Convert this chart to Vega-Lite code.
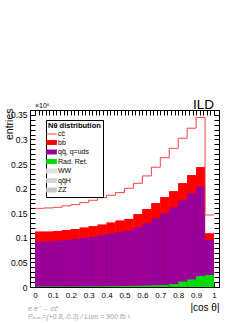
{
  "$schema": "https://vega.github.io/schema/vega-lite/v6.json",
  "autosize": {"type": "none"},
  "padding": {"left": 30, "top": 110, "right": 30, "bottom": 36},
  "width": 189,
  "height": 177,
  "background": "white",
  "config": {
    "view": {"stroke": "black", "strokeWidth": 1},
    "font": "Liberation Sans",
    "axis": {"grid": false, "domain": false, "tickColor": "black", "labelColor": "black", "titleColor": "black", "labelFont": "Liberation Sans", "titleFont": "Liberation Sans", "titleFontWeight": "normal", "labelOverlap": false, "labelFlush": false, "labelBound": false}
  },
  "datasets": {
    "hist": [
      {"lo": 0.00, "hi": 0.05, "series": "bb\u0304", "top": 0.1126},
      {"lo": 0.05, "hi": 0.10, "series": "bb\u0304", "top": 0.1126},
      {"lo": 0.10, "hi": 0.15, "series": "bb\u0304", "top": 0.114},
      {"lo": 0.15, "hi": 0.20, "series": "bb\u0304", "top": 0.116},
      {"lo": 0.20, "hi": 0.25, "series": "bb\u0304", "top": 0.118},
      {"lo": 0.25, "hi": 0.30, "series": "bb\u0304", "top": 0.1207},
      {"lo": 0.30, "hi": 0.35, "series": "bb\u0304", "top": 0.1235},
      {"lo": 0.35, "hi": 0.40, "series": "bb\u0304", "top": 0.1268},
      {"lo": 0.40, "hi": 0.45, "series": "bb\u0304", "top": 0.1309},
      {"lo": 0.45, "hi": 0.50, "series": "bb\u0304", "top": 0.135},
      {"lo": 0.50, "hi": 0.55, "series": "bb\u0304", "top": 0.1384},
      {"lo": 0.55, "hi": 0.60, "series": "bb\u0304", "top": 0.148},
      {"lo": 0.60, "hi": 0.65, "series": "bb\u0304", "top": 0.1587},
      {"lo": 0.65, "hi": 0.70, "series": "bb\u0304", "top": 0.1703},
      {"lo": 0.70, "hi": 0.75, "series": "bb\u0304", "top": 0.1825},
      {"lo": 0.75, "hi": 0.80, "series": "bb\u0304", "top": 0.1945},
      {"lo": 0.80, "hi": 0.85, "series": "bb\u0304", "top": 0.211},
      {"lo": 0.85, "hi": 0.90, "series": "bb\u0304", "top": 0.228},
      {"lo": 0.90, "hi": 0.95, "series": "bb\u0304", "top": 0.2436},
      {"lo": 0.95, "hi": 1.00, "series": "bb\u0304", "top": 0.109},
      {"lo": 0.00, "hi": 0.05, "series": "qq\u0304, q=uds", "top": 0.0922},
      {"lo": 0.05, "hi": 0.10, "series": "qq\u0304, q=uds", "top": 0.0929},
      {"lo": 0.10, "hi": 0.15, "series": "qq\u0304, q=uds", "top": 0.0943},
      {"lo": 0.15, "hi": 0.20, "series": "qq\u0304, q=uds", "top": 0.0956},
      {"lo": 0.20, "hi": 0.25, "series": "qq\u0304, q=uds", "top": 0.0977},
      {"lo": 0.25, "hi": 0.30, "series": "qq\u0304, q=uds", "top": 0.0997},
      {"lo": 0.30, "hi": 0.35, "series": "qq\u0304, q=uds", "top": 0.1024},
      {"lo": 0.35, "hi": 0.40, "series": "qq\u0304, q=uds", "top": 0.1055},
      {"lo": 0.40, "hi": 0.45, "series": "qq\u0304, q=uds", "top": 0.1085},
      {"lo": 0.45, "hi": 0.50, "series": "qq\u0304, q=uds", "top": 0.112},
      {"lo": 0.50, "hi": 0.55, "series": "qq\u0304, q=uds", "top": 0.1146},
      {"lo": 0.55, "hi": 0.60, "series": "qq\u0304, q=uds", "top": 0.1214},
      {"lo": 0.60, "hi": 0.65, "series": "qq\u0304, q=uds", "top": 0.1296},
      {"lo": 0.65, "hi": 0.70, "series": "qq\u0304, q=uds", "top": 0.1398},
      {"lo": 0.70, "hi": 0.75, "series": "qq\u0304, q=uds", "top": 0.15},
      {"lo": 0.75, "hi": 0.80, "series": "qq\u0304, q=uds", "top": 0.162},
      {"lo": 0.80, "hi": 0.85, "series": "qq\u0304, q=uds", "top": 0.1757},
      {"lo": 0.85, "hi": 0.90, "series": "qq\u0304, q=uds", "top": 0.1906},
      {"lo": 0.90, "hi": 0.95, "series": "qq\u0304, q=uds", "top": 0.204},
      {"lo": 0.95, "hi": 1.00, "series": "qq\u0304, q=uds", "top": 0.0957},
      {"lo": 0.00, "hi": 0.05, "series": "Rad. Ret.", "top": 0.001},
      {"lo": 0.05, "hi": 0.10, "series": "Rad. Ret.", "top": 0.001},
      {"lo": 0.10, "hi": 0.15, "series": "Rad. Ret.", "top": 0.001},
      {"lo": 0.15, "hi": 0.20, "series": "Rad. Ret.", "top": 0.001},
      {"lo": 0.20, "hi": 0.25, "series": "Rad. Ret.", "top": 0.001},
      {"lo": 0.25, "hi": 0.30, "series": "Rad. Ret.", "top": 0.0012},
      {"lo": 0.30, "hi": 0.35, "series": "Rad. Ret.", "top": 0.0013},
      {"lo": 0.35, "hi": 0.40, "series": "Rad. Ret.", "top": 0.0015},
      {"lo": 0.40, "hi": 0.45, "series": "Rad. Ret.", "top": 0.0017},
      {"lo": 0.45, "hi": 0.50, "series": "Rad. Ret.", "top": 0.002},
      {"lo": 0.50, "hi": 0.55, "series": "Rad. Ret.", "top": 0.0022},
      {"lo": 0.55, "hi": 0.60, "series": "Rad. Ret.", "top": 0.0025},
      {"lo": 0.60, "hi": 0.65, "series": "Rad. Ret.", "top": 0.003},
      {"lo": 0.65, "hi": 0.70, "series": "Rad. Ret.", "top": 0.0035},
      {"lo": 0.70, "hi": 0.75, "series": "Rad. Ret.", "top": 0.004},
      {"lo": 0.75, "hi": 0.80, "series": "Rad. Ret.", "top": 0.006},
      {"lo": 0.80, "hi": 0.85, "series": "Rad. Ret.", "top": 0.011},
      {"lo": 0.85, "hi": 0.90, "series": "Rad. Ret.", "top": 0.0156},
      {"lo": 0.90, "hi": 0.95, "series": "Rad. Ret.", "top": 0.0224},
      {"lo": 0.95, "hi": 1.00, "series": "Rad. Ret.", "top": 0.0244}
    ],
    "total": [
      {"x": 0.00, "entries": 0.160},
      {"x": 0.05, "entries": 0.1608},
      {"x": 0.10, "entries": 0.162},
      {"x": 0.15, "entries": 0.165},
      {"x": 0.20, "entries": 0.1675},
      {"x": 0.25, "entries": 0.1716},
      {"x": 0.30, "entries": 0.1764},
      {"x": 0.35, "entries": 0.1818},
      {"x": 0.40, "entries": 0.1866},
      {"x": 0.45, "entries": 0.192},
      {"x": 0.50, "entries": 0.2008},
      {"x": 0.55, "entries": 0.211},
      {"x": 0.60, "entries": 0.2259},
      {"x": 0.65, "entries": 0.2436},
      {"x": 0.70, "entries": 0.263},
      {"x": 0.75, "entries": 0.282},
      {"x": 0.80, "entries": 0.3026},
      {"x": 0.85, "entries": 0.323},
      {"x": 0.90, "entries": 0.3446},
      {"x": 0.95, "entries": 0.1465},
      {"x": 1.00, "entries": 0.1465}
    ]
  },
  "layer": [
    {
      "data": {"name": "hist"},
      "mark": {"type": "bar", "orient": "vertical"},
      "encoding": {
        "x": {
          "field": "lo", "type": "quantitative",
          "scale": {"domain": [0, 1], "nice": false, "zero": false},
          "axis": {
            "orient": "bottom",
            "values": [0,0.02,0.04,0.06,0.08,0.1,0.12,0.14,0.16,0.18,0.2,0.22,0.24,0.26,0.28,0.3,0.32,0.34,0.36,0.38,0.4,0.42,0.44,0.46,0.48,0.5,0.52,0.54,0.56,0.58,0.6,0.62,0.64,0.66,0.68,0.7,0.72,0.74,0.76,0.78,0.8,0.82,0.84,0.86,0.88,0.9,0.92,0.94,0.96,0.98,1],
            "labelExpr": "abs(datum.value*10-round(datum.value*10))<1e-6 ? format(datum.value,'~g') : ''",
            "tickSize": -5,
            "labelPadding": 9,
            "labelFontSize": 8,
            "title": "|cos θ|",
            "titleFontSize": 10,
            "titleAnchor": "end",
            "titleAlign": "right",
            "titleX": 189,
            "titleY": 23,
            "titleBaseline": "alphabetic",
            "encode": {"ticks": {"update": {"y2": {"signal": "abs(datum.value*10-round(datum.value*10))<1e-6 ? -5 : -2.5"}}}}
          }
        },
        "x2": {"field": "hi"},
        "y": {
          "field": "top", "type": "quantitative", "stack": null,
          "scale": {"domain": [0, 0.36], "nice": false},
          "axis": {
            "orient": "left",
            "values": [0,0.01,0.02,0.03,0.04,0.05,0.06,0.07,0.08,0.09,0.1,0.11,0.12,0.13,0.14,0.15,0.16,0.17,0.18,0.19,0.2,0.21,0.22,0.23,0.24,0.25,0.26,0.27,0.28,0.29,0.3,0.31,0.32,0.33,0.34,0.35,0.36],
            "labelExpr": "abs(datum.value*20-round(datum.value*20))<1e-6 ? format(datum.value,'~g') : ''",
            "tickSize": -5,
            "labelPadding": 8,
            "labelFontSize": 8.5,
            "title": "entries",
            "titleFontSize": 10.5,
            "titleAngle": -90,
            "titleAlign": "right",
            "titleAnchor": "start",
            "titleX": -18,
            "titleY": -2,
            "titleBaseline": "alphabetic",
            "encode": {"ticks": {"update": {"x2": {"signal": "abs(datum.value*20-round(datum.value*20))<1e-6 ? 5 : 2.5"}}}}
          }
        },
        "y2": {"datum": 0},
        "color": {
          "field": "series", "type": "nominal",
          "scale": {
            "domain": ["cc\u0304", "bb\u0304", "qq\u0304, q=uds", "Rad. Ret.", "WW", "qq\u0304H", "ZZ"],
            "range": ["#ffffff", "#ff0000", "#990099", "#00dd00", "#e2e2e2", "#d6d6d6", "#c8c8c8"]
          },
          "legend": {
            "title": "Nθ distribution",
            "orient": "none",
            "legendX": 16,
            "legendY": 10,
            "direction": "vertical",
            "fillColor": "white",
            "strokeColor": "black",
            "padding": 2,
            "titleFont": "Liberation Sans",
            "titleFontSize": 7.5,
            "titleFontWeight": "bold",
            "titleColor": "black",
            "titlePadding": 1,
            "labelFont": "Liberation Sans",
            "labelFontSize": 7,
            "labelColor": "black",
            "labelOffset": 3,
            "symbolSize": 20,
            "rowPadding": 0.5,
            "encode": {
              "symbols": {
                "update": {
                  "shape": {"signal": "datum.value === 'cc\u0304' ? 'M-2.4,0H2.4' : 'M-2.4,-1.1H2.4V1.1H-2.4Z'"},
                  "stroke": {"signal": "datum.value === 'cc\u0304' ? '#ff4040' : 'transparent'"},
                  "strokeWidth": {"value": 1}
                }
              }
            }
          }
        }
      }
    },
    {
      "data": {"name": "hist"},
      "mark": {"type": "bar", "orient": "vertical"},
      "encoding": {
        "x": {"field": "lo", "type": "quantitative", "axis": null},
        "x2": {"field": "hi"},
        "y": {"field": "top", "type": "quantitative", "stack": null, "axis": null},
        "y2": {"datum": 0},
        "color": {"field": "series", "type": "nominal"}
      }
    },
    {
      "data": {"name": "total"},
      "mark": {"type": "line", "interpolate": "step-after", "color": "#ff4040", "strokeWidth": 1},
      "encoding": {
        "x": {
          "field": "x", "type": "quantitative",
          "axis": {
            "orient": "top",
            "values": [0,0.02,0.04,0.06,0.08,0.1,0.12,0.14,0.16,0.18,0.2,0.22,0.24,0.26,0.28,0.3,0.32,0.34,0.36,0.38,0.4,0.42,0.44,0.46,0.48,0.5,0.52,0.54,0.56,0.58,0.6,0.62,0.64,0.66,0.68,0.7,0.72,0.74,0.76,0.78,0.8,0.82,0.84,0.86,0.88,0.9,0.92,0.94,0.96,0.98,1],
            "labels": false,
            "title": null,
            "tickSize": -5,
            "encode": {"ticks": {"update": {"y2": {"signal": "abs(datum.value*10-round(datum.value*10))<1e-6 ? 5 : 2.5"}}}}
          }
        },
        "y": {
          "field": "entries", "type": "quantitative",
          "axis": {
            "orient": "right",
            "values": [0,0.01,0.02,0.03,0.04,0.05,0.06,0.07,0.08,0.09,0.1,0.11,0.12,0.13,0.14,0.15,0.16,0.17,0.18,0.19,0.2,0.21,0.22,0.23,0.24,0.25,0.26,0.27,0.28,0.29,0.3,0.31,0.32,0.33,0.34,0.35,0.36],
            "labels": false,
            "title": null,
            "tickSize": -5,
            "encode": {"ticks": {"update": {"x2": {"signal": "abs(datum.value*20-round(datum.value*20))<1e-6 ? -5 : -2.5"}}}}
          }
        }
      }
    },
    {
      "data": {"values": [{"label": "×10⁶", "x": 0, "y": 0.36}]},
      "mark": {"type": "text", "align": "left", "baseline": "alphabetic", "dy": -2, "fontSize": 7, "font": "Liberation Sans", "color": "black"},
      "encoding": {
        "x": {"field": "x", "type": "quantitative", "axis": null},
        "y": {"field": "y", "type": "quantitative", "axis": null},
        "text": {"field": "label"}
      }
    },
    {
      "data": {"values": [{"label": "ILD", "x": 1, "y": 0.36}]},
      "mark": {"type": "text", "align": "right", "baseline": "alphabetic", "dy": -1, "fontSize": 13.5, "font": "Liberation Sans", "color": "black"},
      "encoding": {
        "x": {"field": "x", "type": "quantitative", "axis": null},
        "y": {"field": "y", "type": "quantitative", "axis": null},
        "text": {"field": "label"}
      }
    },
    {
      "data": {"values": [{"label": "e⁻e⁺ → cc\u0304", "x": 0, "y": 0}]},
      "mark": {"type": "text", "align": "left", "baseline": "middle", "dx": -7, "dy": 22, "fontSize": 7, "fontStyle": "italic", "font": "Liberation Sans", "color": "#a0a0a0"},
      "encoding": {
        "x": {"field": "x", "type": "quantitative", "axis": null},
        "y": {"field": "y", "type": "quantitative", "axis": null},
        "text": {"field": "label"}
      }
    },
    {
      "data": {"values": [{"label": "Pₑ₋ₑ₊=(+0.8,-0.3) / Lum = 900 fb⁻¹", "x": 0, "y": 0}]},
      "mark": {"type": "text", "align": "left", "baseline": "middle", "dx": -7, "dy": 30, "fontSize": 7, "fontStyle": "italic", "font": "Liberation Sans", "color": "#a0a0a0"},
      "encoding": {
        "x": {"field": "x", "type": "quantitative", "axis": null},
        "y": {"field": "y", "type": "quantitative", "axis": null},
        "text": {"field": "label"}
      }
    }
  ]
}
